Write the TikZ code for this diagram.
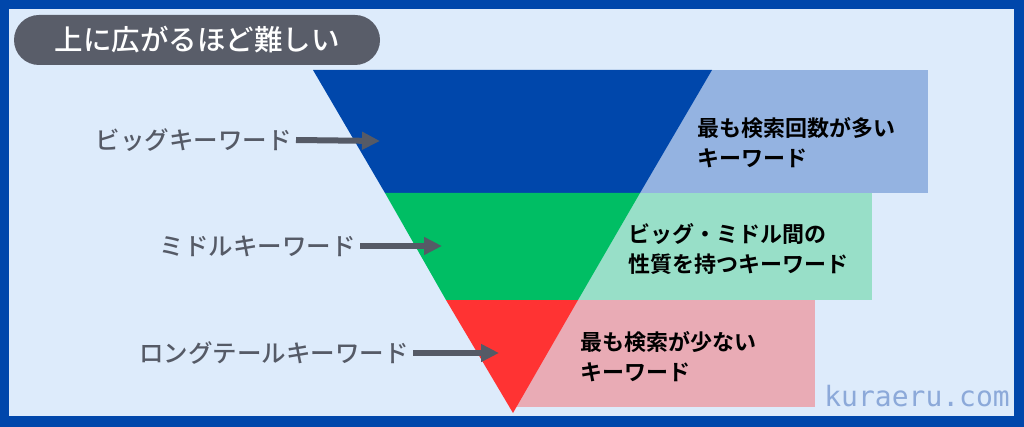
\documentclass[tikz,border=0pt]{standalone}
\usepackage{fontspec}
\newfontfamily\jpfont{Noto Sans CJK JP Medium}
\newfontfamily\jpbold{Noto Sans CJK JP Bold}
\newfontfamily\sitefont{DejaVu Sans Mono}
\usetikzlibrary{positioning,arrows.meta}
\definecolor{frameblue}{HTML}{0047AB}
\definecolor{paleblue}{HTML}{DDEBFB}
\definecolor{pillgray}{HTML}{595D69}
\definecolor{arrowgray}{HTML}{555A66}
\definecolor{topblue}{HTML}{0047AB}
\definecolor{midgreen}{HTML}{00BE64}
\definecolor{lowred}{HTML}{FF3333}
\definecolor{topbox}{HTML}{94B3E1}
\definecolor{midbox}{HTML}{98DFC8}
\definecolor{lowbox}{HTML}{E9ABB5}
\definecolor{markblue}{HTML}{8CA9D9}
\tikzstyle{kwlabel}=[anchor=east,text=arrowgray,font=\jpfont\fontsize{24.5}{27}\selectfont,inner sep=4pt]
\tikzstyle{boxtext}=[anchor=west,align=left,text=black,font=\jpbold\fontsize{22}{30}\selectfont,inner sep=0pt]
\tikzstyle{kwarrow}=[-{Triangle[length=18pt,width=17pt]},line width=6pt,arrowgray]

\begin{document}
\begin{tikzpicture}[x=1pt,y=-1pt]
% frame
\fill[frameblue] (0,0) rectangle (1024,427);
\fill[paleblue] (9,9) rectangle (1014,416);
\useasboundingbox (0,0) rectangle (1024,427);
% title
\node (title) [fill=pillgray,rounded corners=25pt,minimum width=366pt,minimum height=50pt,
  text=white,font=\jpfont\fontsize{28.5}{30}\selectfont] at (197,40) {上に広がるほど難しい};
% boxes behind the funnel
\fill[topbox] (513,70) rectangle (928,193);
\fill[midbox] (513,193) rectangle (872,300);
\fill[lowbox] (513,300) rectangle (815,407);
% funnel
\fill[topblue] (313,70) -- (712,70) -- (640,193) -- (385,193) -- cycle;
\fill[midgreen] (385,193) -- (640,193) -- (578,300) -- (446,300) -- cycle;
\fill[lowred] (446,300) -- (578,300) -- (513,413) -- cycle;
% labels
\node (big) [kwlabel] at (296,140) {ビッグキーワード};
\node (mid) [kwlabel] at (360,246) {ミドルキーワード};
\node (tail) [kwlabel] at (413,353) {ロングテールキーワード};
\coordinate (bigT) at (380,141);
\coordinate (midT) at (442,246);
\coordinate (tailT) at (499,353);
\draw[kwarrow] (big.east) -- (bigT);
\draw[kwarrow] (mid.east) -- (midT);
\draw[kwarrow] (tail.east) -- (tailT);
% box texts
\node (bigtxt) [boxtext] at (697,143) {最も検索回数が多い\\キーワード};
\node (midtxt) [boxtext] at (628,249) {ビッグ・ミドル間の\\性質を持つキーワード};
\node (tailtxt) [boxtext] at (580,357) {最も検索が少ない\\キーワード};
% site mark
\node (site) [anchor=east,text=markblue,font=\sitefont\fontsize{28}{30}\selectfont,inner sep=0pt] at (1010,396) {kuraeru.com};
\end{tikzpicture}
\end{document}
